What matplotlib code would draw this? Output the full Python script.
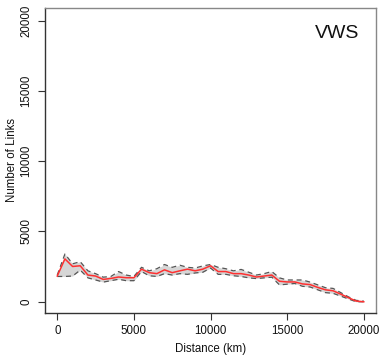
import matplotlib
matplotlib.use("Agg")
import matplotlib.pyplot as plt
import numpy as np

plt.rcParams['font.family'] = ['Liberation Sans', 'DejaVu Sans']

distance = np.arange(0, 20001, 500)
mean_links = [1830, 3050, 2510, 2560, 1900, 1830, 1590, 1660, 1760, 1710,
              1710, 2320, 2070, 2000, 2270, 2070, 2200, 2320, 2200, 2320,
              2560, 2150, 2150, 2000, 2000, 1900, 1760, 1830, 1900, 1460,
              1410, 1410, 1270, 1220, 1020, 850, 780, 540, 290, 50, 0]
upper_links = [1900, 3400, 2700, 2850, 2200, 2000, 1750, 1800, 2150, 1900,
               1800, 2450, 2200, 2350, 2650, 2450, 2600, 2450, 2400, 2550,
               2650, 2450, 2350, 2200, 2300, 2100, 1900, 2000, 2150, 1700,
               1550, 1550, 1550, 1400, 1200, 1000, 950, 650, 350, 100, 50]
lower_links = [1800, 1800, 1830, 2250, 1700, 1550, 1400, 1500, 1600, 1500,
               1500, 2150, 1850, 1800, 2000, 1900, 2000, 1950, 2050, 2100,
               2400, 1950, 1950, 1850, 1800, 1700, 1650, 1700, 1750, 1200,
               1250, 1300, 1100, 1050, 850, 650, 600, 400, 200, 0, 0]

x_ticks = [0, 5000, 10000, 15000, 20000]
y_ticks = [0, 5000, 10000, 15000, 20000]

fig = plt.figure(figsize=(3.84, 3.61), dpi=100)
ax = fig.add_axes([45/384, 1-313/361, (376-45)/384, (313-8)/361])

ax.fill_between(distance, lower_links, upper_links, color='#d6d6d6', lw=0)
ax.plot(distance, upper_links, color='#555555', lw=0.9, ls=(0, (4, 3)))
ax.plot(distance, lower_links, color='#555555', lw=0.9, ls=(0, (4, 3)))
ax.plot(distance, mean_links, color='#ff3030', lw=1.1)

ax.set_xlim(-800, 20800)
ax.set_ylim(-800, 20900)
ax.set_xticks(x_ticks)
ax.set_yticks(y_ticks)
ax.set_xticklabels([str(v) for v in x_ticks], fontsize=8.3)
ax.set_yticklabels([str(v) for v in y_ticks], fontsize=8.3, rotation=90, va='center')
ax.tick_params(direction='out', length=5, width=0.8, color='#333333', labelcolor='#111111')
ax.tick_params(axis='x', pad=4)
ax.tick_params(axis='y', pad=4)

for s in ['left', 'bottom']:
    ax.spines[s].set_color('#333333')
    ax.spines[s].set_linewidth(1.0)
for s in ['top', 'right']:
    ax.spines[s].set_color('#888888')
    ax.spines[s].set_linewidth(1.0)

ax.set_xlabel('Distance (km)', fontsize=8.3, labelpad=4, color='#111111')
ax.yaxis.set_label_coords(-((45 - 12) / 331), 0.5)
ax.set_ylabel('Number of Links', fontsize=8.3, color='#111111', va='center')
ax.text(18240, 19115, 'VWS', fontsize=14, ha='center', va='center', color='#111111')

fig.savefig('out.png', dpi=100)
